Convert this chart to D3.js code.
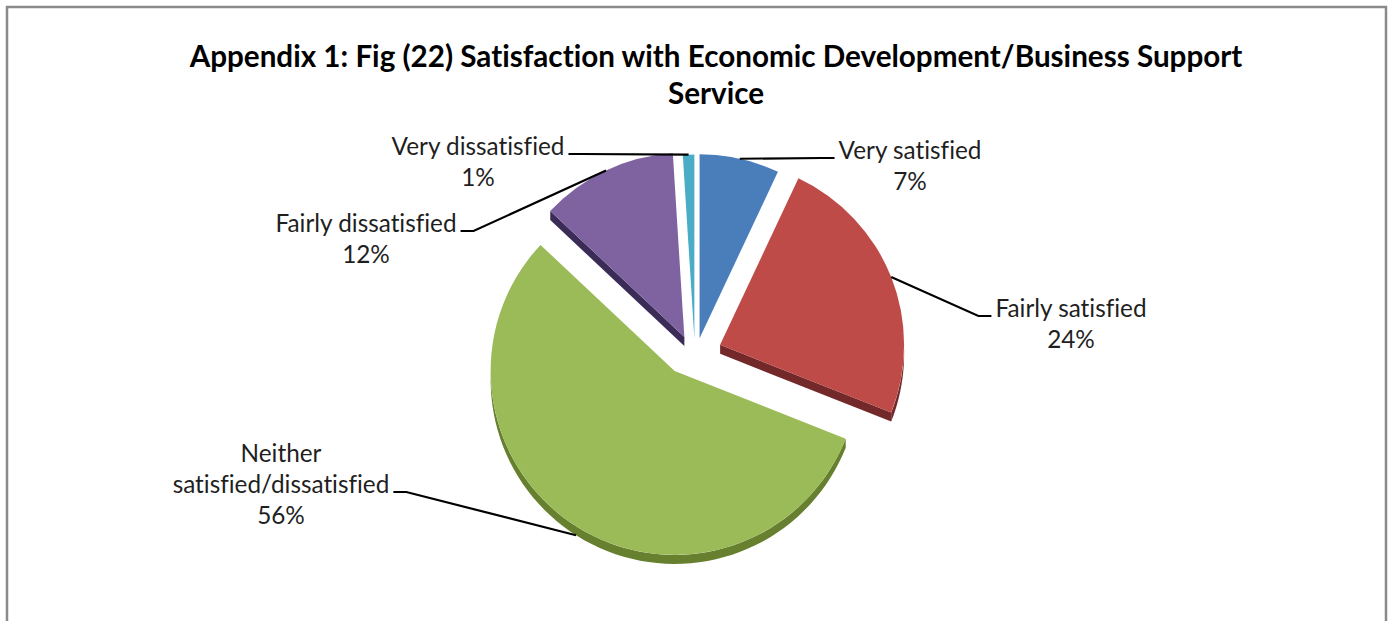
<!DOCTYPE html>
<html>
<head>
<meta charset="utf-8">
<script src="https://cdn.jsdelivr.net/npm/d3@7"></script>
<style>
  html, body { margin: 0; padding: 0; background: #fff; }
  svg { display: block; }
  text { font-variant-ligatures: none; font-feature-settings: "liga" 0; }
</style>
</head>
<body>
<svg id="chart" width="1395" height="621"></svg>
<script>
// ---- data ----
const categories = [
  "Very satisfied",
  "Fairly satisfied",
  "Neither satisfied/dissatisfied",
  "Fairly dissatisfied",
  "Very dissatisfied"
];
const values = [7, 24, 56, 12, 1];           // percent of respondents
const labelLines = [
  ["Very satisfied"],
  ["Fairly satisfied"],
  ["Neither", "satisfied/dissatisfied"],
  ["Fairly dissatisfied"],
  ["Very dissatisfied"]
];
const titleLines = [
  "Appendix 1: Fig (22) Satisfaction with Economic Development/Business Support",
  "Service"
];

// ---- styling ----
const faceColors = ["#4a7ebb", "#be4b48", "#9bbb59", "#7f63a1", "#4bacc6"];
const wallColors = ["#2e5582", "#73282a", "#66802f", "#3b2c57", "#2d7f97"];
const explodeDist = [21, 27, 38, 25, 20];    // how far each slice is pulled out
const explodeSquash = 0.62;                   // vertical foreshortening of the pull
// label block: centre x, first baseline, which line/side the leader joins
const labelLayout = [
  { cx: 910,  y: 159, line: 0, side: "left"  },
  { cx: 1071, y: 317, line: 0, side: "left"  },
  { cx: 281,  y: 462, line: 1, side: "right" },
  { cx: 366,  y: 232, line: 0, side: "right" },
  { cx: 478,  y: 155, line: 0, side: "right" }
];
const lineGap = 31;
const fontStack = "Lato, 'Open Sans', 'DejaVu Sans', sans-serif";

const svg = d3.select("#chart");

// chart frame
svg.append("rect")
  .attr("x", 7).attr("y", 7)
  .attr("width", 1379).attr("height", 680)
  .attr("fill", "#fff")
  .attr("stroke", "#8a8a8a")
  .attr("stroke-width", 2.5);

// size a font so that a string spans a given width
function fitSize(text, weight, target) {
  const t = svg.append("text")
    .attr("font-family", fontStack)
    .attr("font-weight", weight)
    .attr("font-size", 100)
    .text(text);
  const w = t.node().getComputedTextLength();
  t.remove();
  return 100 * target / w;
}

// ---- title ----
const titleSize = fitSize(titleLines[0], "bold", 1053);
svg.append("text")
  .attr("x", 716).attr("y", 67)
  .attr("text-anchor", "middle")
  .attr("font-family", fontStack)
  .attr("font-weight", "bold")
  .attr("font-size", titleSize)
  .attr("fill", "#000")
  .selectAll("tspan")
  .data(titleLines)
  .join("tspan")
  .attr("x", 716)
  .attr("dy", (d, i) => i === 0 ? 0 : 37)
  .text(d => d);

// ---- exploded 3D pie ----
const center = { x: 695, y: 351 };
const radius = 184;
const depth = 9;

const arcs = d3.pie().sort(null).value(d => d)(values);
const arcGen = d3.arc().innerRadius(0).outerRadius(radius);
const line = d3.line();

const pt = (a, r) => [r * Math.sin(a), -r * Math.cos(a)];

arcs.forEach((a, i) => {
  const mid = (a.startAngle + a.endAngle) / 2;
  a.mid = mid;
  a.apex = [
    center.x + explodeDist[i] * Math.sin(mid),
    center.y - explodeDist[i] * Math.cos(mid) * explodeSquash
  ];
});

const wallLayer = svg.append("g");
const faceLayer = svg.append("g");

arcs.forEach((a, i) => {
  const g = wallLayer.append("g")
    .attr("transform", `translate(${a.apex[0]},${a.apex[1]})`);

  // outer rim facing the viewer (lower half of the circle)
  const s = Math.max(a.startAngle, Math.PI / 2);
  const e = Math.min(a.endAngle, Math.PI * 1.5);
  if (e > s) {
    const top = d3.range(0, 61).map(k => pt(s + (e - s) * k / 60, radius));
    const bottom = top.map(p => [p[0], p[1] + depth]).reverse();
    g.append("path")
      .attr("d", line(top.concat(bottom)) + "Z")
      .attr("fill", wallColors[i]);
  }

  // radial cut faces that turn toward the viewer
  [[a.startAngle, -1], [a.endAngle, 1]].forEach(([ang, dir]) => {
    const nAng = ang + dir * Math.PI / 2;
    const ny = -Math.cos(nAng);
    if (ny > 0.5) {
      const p = pt(ang, radius);
      g.append("path")
        .attr("d", line([[0, 0], p, [p[0], p[1] + depth], [0, depth]]) + "Z")
        .attr("fill", wallColors[i]);
    }
  });

  faceLayer.append("path")
    .attr("transform", `translate(${a.apex[0]},${a.apex[1]})`)
    .attr("d", arcGen(a))
    .attr("fill", faceColors[i]);
});

// ---- data labels with leader lines ----
const labelSize = fitSize("Very satisfied", "normal", 143);
const labelLayer = svg.append("g")
  .attr("font-family", fontStack)
  .attr("font-size", labelSize)
  .attr("fill", "#1f1f1f");
const leaderLayer = svg.append("g")
  .attr("fill", "none")
  .attr("stroke", "#000")
  .attr("stroke-width", 2.2);

arcs.forEach((a, i) => {
  const L = labelLayout[i];
  const lines = labelLines[i].concat([`${values[i]}%`]);
  const texts = lines.map((t, k) =>
    labelLayer.append("text")
      .attr("x", L.cx)
      .attr("y", L.y + k * lineGap)
      .attr("text-anchor", "middle")
      .text(t)
  );
  const w = texts[L.line].node().getComputedTextLength();
  const ly = L.y + L.line * lineGap - 1;
  const attachX = L.side === "left" ? L.cx - w / 2 - 4 : L.cx + w / 2 + 4;
  const elbowX = L.side === "left" ? attachX - 13 : attachX + 13;

  const rimDrop = Math.cos(a.mid) < 0 ? depth : 0;
  const rim = pt(a.mid, radius);
  const rimPt = [a.apex[0] + rim[0], a.apex[1] + rim[1] + rimDrop];

  leaderLayer.append("path")
    .attr("d", line([rimPt, [elbowX, ly], [attachX, ly]]));
});
</script>
</body>
</html>
